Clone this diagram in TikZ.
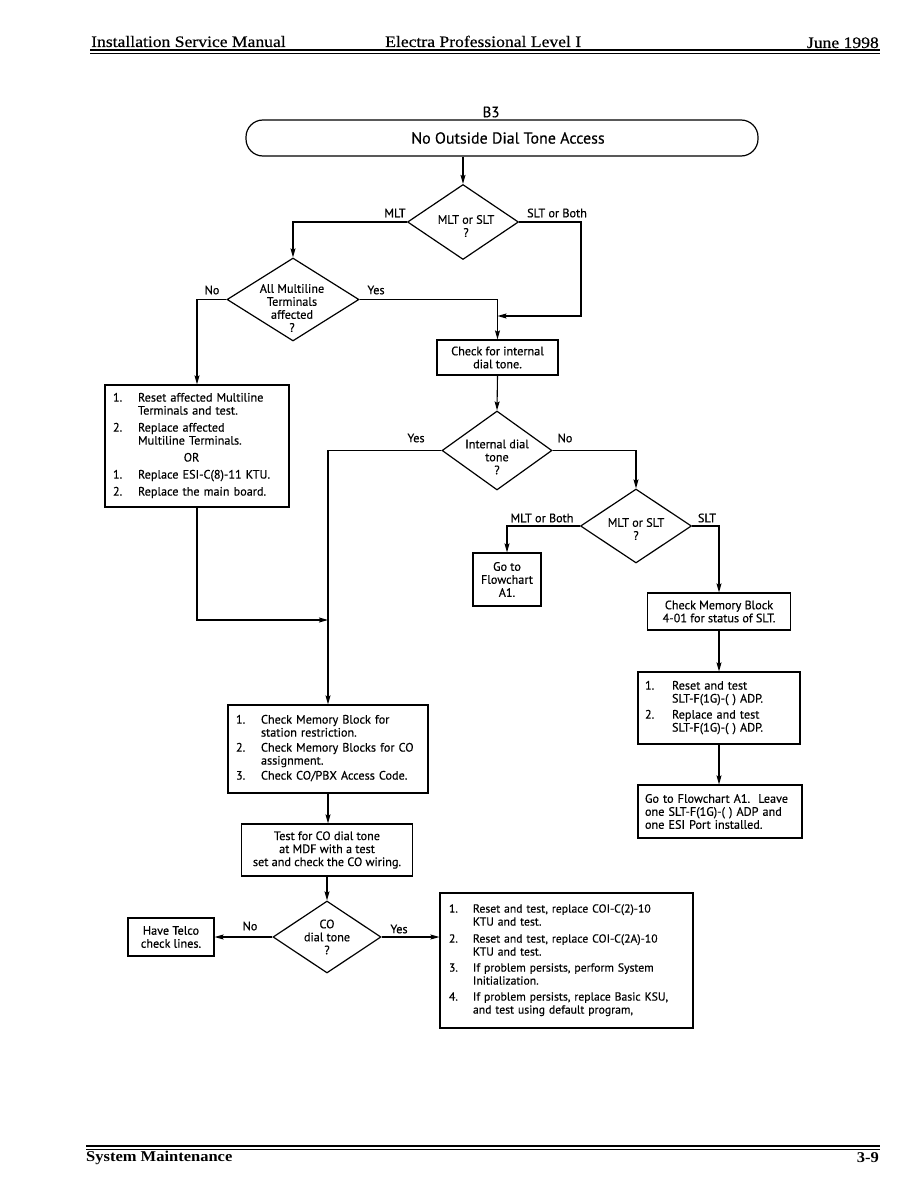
\documentclass[tikz,border=0pt]{standalone}
\usepackage{fontspec}
\setmainfont{PT Sans}[FakeBold=0.35]
\newfontfamily\hdrfont{Liberation Serif}[FakeStretch=1.1,FakeBold=0.4]
\newfontfamily\ftrfont{Liberation Serif}[FakeStretch=1.1]
\usetikzlibrary{shapes.geometric,arrows.meta}
\newcommand\fsz{\fontsize{12.2}{13}\selectfont}
\newcommand\fszb{\fontsize{11.7}{13}\selectfont}
\tikzset{
  ln/.style={line width=1.1pt},
  arr/.style={line width=1.1pt, -{Stealth[length=9pt,width=5pt,inset=1.5pt]}},
  box/.style={draw, line width=1.2pt, inner sep=0pt, align=center, font=\fsz},
  lbox/.style={draw, line width=1.2pt, inner ysep=0pt, align=left, font=\fsz},
  dia/.style={draw, diamond, line width=1.2pt, inner sep=0pt},
  dtext/.style={align=center, font=\fsz, inner sep=0pt},
  lbl/.style={font=\fsz, inner sep=0pt},
  hdr/.style={font=\hdrfont\fontsize{16}{18}\selectfont, inner sep=0pt},
  ftr/.style={font=\ftrfont\bfseries\fontsize{15}{17}\selectfont, inner sep=0pt},
}
\begin{document}
\begin{tikzpicture}[x=1pt,y=-1pt]
\useasboundingbox (0,0) rectangle (918,1188);

% header and footer
\node[hdr, anchor=base west] (h1) at (91,47) {Installation Service Manual};
\node[hdr, anchor=base west] (h2) at (385,47) {Electra Professional Level I};
\node[hdr, anchor=base east] (h3) at (879,48) {June 1998};
\draw[line width=1.6pt] (90,50) -- (880,50);
\draw[line width=0.6pt] (90,53.5) -- (880,53.5);
\draw[line width=1.6pt] (86,1146) -- (880,1146);
\draw[line width=0.6pt] (86,1149.5) -- (880,1149.5);
\node[ftr, anchor=base west] (f1) at (86,1161) {System Maintenance};
\node[ftr, anchor=base east] (f2) at (879,1162) {3-9};

% title
\node[font=\fontsize{15}{16}\selectfont, inner sep=0pt] (b3) at (491,112) {B3};
\node[draw, line width=1.2pt, rounded corners=17pt, minimum width=512pt, minimum height=36pt,
  inner sep=0pt] (term) at (502,138) {};
\node[font=\fontsize{16}{16}\selectfont, inner sep=0pt] (termt) at (508,138) {No Outside Dial Tone Access};

% diamonds
\node[dia, minimum width=111pt, minimum height=75pt] (d1) at (463,222) {};
\node[dtext] (d1t) at (466,226) {MLT or SLT\\?};
\node[dia, minimum width=132pt, minimum height=83pt] (d2) at (293,299.5) {};
\node[dtext] (d2t) at (292,308) {All Multiline\\Terminals\\affected\\?};
\node[dia, minimum width=110pt, minimum height=79pt] (d3) at (497,450.5) {};
\node[dtext] (d3t) at (497,457) {Internal dial\\tone\\?};
\node[dia, minimum width=111pt, minimum height=74pt] (d4) at (636,526) {};
\node[dtext] (d4t) at (636,529) {MLT or SLT\\?};
\node[dia, minimum width=108pt, minimum height=72pt] (d5) at (327,937) {};
\node[dtext] (d5t) at (327,937) {CO\\dial tone\\?};

% boxes
\node[box, minimum width=121pt, minimum height=35pt] (bint) at (497.5,357.5) {Check for internal\\dial tone.};
\node[box, minimum width=68pt, minimum height=53pt] (bgo) at (507,579.5) {Go to\\Flowchart\\A1.};
\node[box, minimum width=143pt, minimum height=37pt] (bmem) at (719,611.5) {Check Memory Block\\4-01 for status of SLT.};
\node[lbox, inner xsep=7pt, text width=148pt, minimum height=72pt] (breset) at (719,708) {%
\begin{tabular}{@{}p{27pt}@{}l@{}}
1. & Reset and test\\
   & SLT-F(1G)-(\,\,) ADP.\\[3pt]
2. & Replace and test\\
   & SLT-F(1G)-(\,\,) ADP.
\end{tabular}};
\node[lbox, inner xsep=7pt, text width=150pt, minimum height=53pt] (bgoa) at (720,811.5) {Go to Flowchart A1.\ \ Leave\\one SLT-F(1G)-(\,\,) ADP and\\one ESI Port installed.};
\node[lbox, inner xsep=8pt, text width=168pt, minimum height=122pt] (bleft) at (197,446) {%
\begin{tabular}{@{}p{25pt}@{}l@{}}
1. & Reset affected Multiline\\
   & Terminals and test.\\[4pt]
2. & Replace affected\\
   & Multiline Terminals.\\[4pt]
\multicolumn{2}{c}{OR}\\[4pt]
1. & Replace ESI-C(8)-11 KTU.\\[4pt]
2. & Replace the main board.
\end{tabular}};
\node[lbox, inner xsep=8pt, text width=184pt, minimum height=88pt] (bmid) at (328,749) {%
\begin{tabular}{@{}p{25pt}@{}l@{}}
1. & Check Memory Block for\\
   & station restriction.\\[2pt]
2. & Check Memory Blocks for CO\\
   & assignment.\\[2pt]
3. & Check CO/PBX Access Code.
\end{tabular}};
\node[box, minimum width=171pt, minimum height=52pt] (btest) at (327,850) {Test for CO dial tone\\at MDF with a test\\set and check the CO wiring.};
\node[box, minimum width=86pt, minimum height=38pt] (btel) at (171,937) {Have Telco\\check lines.};
\node[lbox, font=\fszb, inner xsep=9pt, text width=235pt, minimum height=135pt] (bbig) at (566.5,960.5) {%
\begin{tabular}{@{}p{24pt}@{}l@{}}
1. & Reset and test, replace COI-C(2)-10\\
   & KTU and test.\\[4pt]
2. & Reset and test, replace COI-C(2A)-10\\
   & KTU and test.\\[3pt]
3. & If problem persists, perform System\\
   & Initialization.\\[3pt]
4. & If problem persists, replace Basic KSU,\\
   & and test using default program,
\end{tabular}};

% helper coordinates
\coordinate (c1) at (581,316);
\coordinate (c2) at (328,620);

% connectors
\draw[arr] (term.south -| d1.north) -- (d1.north);
\draw[arr] (d1.west) -| (d2.north);
\draw[arr] (d1.east) -| (c1) -- (c1 -| bint.north);
\draw[arr] (d2.west) -| (bleft.north);
\draw[arr] (d2.east) -| (bint.north);
\draw[arr] (bint.south) -- (d3.north);
\draw[arr] (d3.west) -| (bmid.north);
\draw[arr] (d3.east) -| (d4.north);
\draw[arr] (d4.west) -| (bgo.north);
\draw[arr] (d4.east) -| (bmem.north);
\draw[arr] (bmem.south) -- (bmem.south |- breset.north);
\draw[arr] (breset.south) -- (breset.south |- bgoa.north);
\draw[arr] (bleft.south) |- (c2);
\draw[arr] (bmid.south) -- (bmid.south |- btest.north);
\draw[arr] (btest.south) -- (d5.north);
\draw[arr] (d5.west) -- (btel.east);
\draw[arr] (d5.east) -- (d5.east -| bbig.west);

% labels
\node[lbl] (l1) at (395,213) {MLT};
\node[lbl] (l2) at (557,213) {SLT or Both};
\node[lbl] (l3) at (212,290) {No};
\node[lbl] (l4) at (376,290) {Yes};
\node[lbl] (l5) at (416,438) {Yes};
\node[lbl] (l6) at (565,438) {No};
\node[lbl] (l7) at (542,518) {MLT or Both};
\node[lbl] (l8) at (707,518) {SLT};
\node[lbl] (l9) at (250,926) {No};
\node[lbl] (l10) at (399,929) {Yes};
\end{tikzpicture}
\end{document}
